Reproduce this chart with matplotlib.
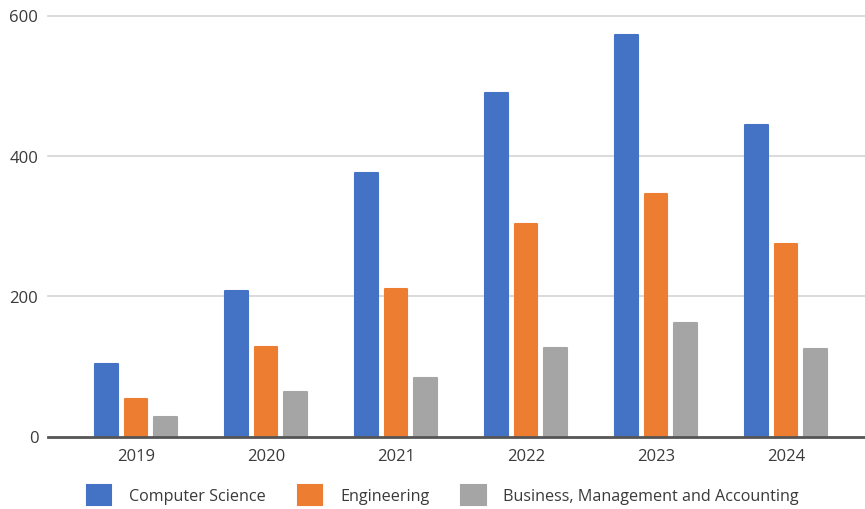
import numpy as np
import matplotlib
matplotlib.use("Agg")
import matplotlib.pyplot as plt

# data
years = ["2019", "2020", "2021", "2022", "2023", "2024"]
computer_science = [103, 208, 375, 490, 572, 444]
engineering = [54, 127, 210, 303, 346, 274]
business = [28, 63, 83, 126, 162, 124]
y_ticks = [0, 200, 400, 600]

series_names = ["Computer Science", "Engineering", "Business, Management and Accounting"]
colors = ["#4472C4", "#ED7D31", "#A5A5A5"]

plt.rcParams['font.family'] = ['Open Sans', 'DejaVu Sans']

if __name__ == "__main__":
    W, H = 865, 510
    fig = plt.figure(figsize=(W / 100, H / 100), dpi=100)
    ax = fig.add_axes([48 / W, 72.5 / H, 817 / W, 421 / H])

    x = np.arange(len(years))
    width = 0.175
    offsets = [-0.225, 0.0, 0.225]
    for vals, off, col, name in zip([computer_science, engineering, business], offsets, colors, series_names):
        ax.bar(x + off, vals, width=width, color=col, edgecolor=col, linewidth=1.5,
               joinstyle="round", label=name, zorder=3)

    ax.set_ylim(0, 600)
    ax.set_xlim(-0.677, 5.608)

    # gridlines
    for t in y_ticks[1:]:
        ax.axhline(t, color="#d4d4d4", lw=1.2, zorder=1, clip_on=False)
    ax.axhline(0, color="#555555", lw=2, zorder=4, clip_on=False)

    for s in ax.spines.values():
        s.set_visible(False)

    ax.set_yticks(y_ticks)
    ax.set_yticklabels([str(t) for t in y_ticks])
    ax.set_xticks(x)
    ax.set_xticklabels(years)
    ax.tick_params(axis="both", length=0, labelsize=12, colors="#3a3a3a")
    ax.tick_params(axis="y", pad=7)
    ax.tick_params(axis="x", pad=8)

    fig.legend(loc="center", bbox_to_anchor=(443 / W, 14 / H), ncol=3, frameon=False,
               fontsize=11.6, handlelength=1.5, handleheight=1.5, handletextpad=1.1,
               columnspacing=2.0, labelcolor="#3a3a3a")

    fig.savefig("out.png", dpi=100)
